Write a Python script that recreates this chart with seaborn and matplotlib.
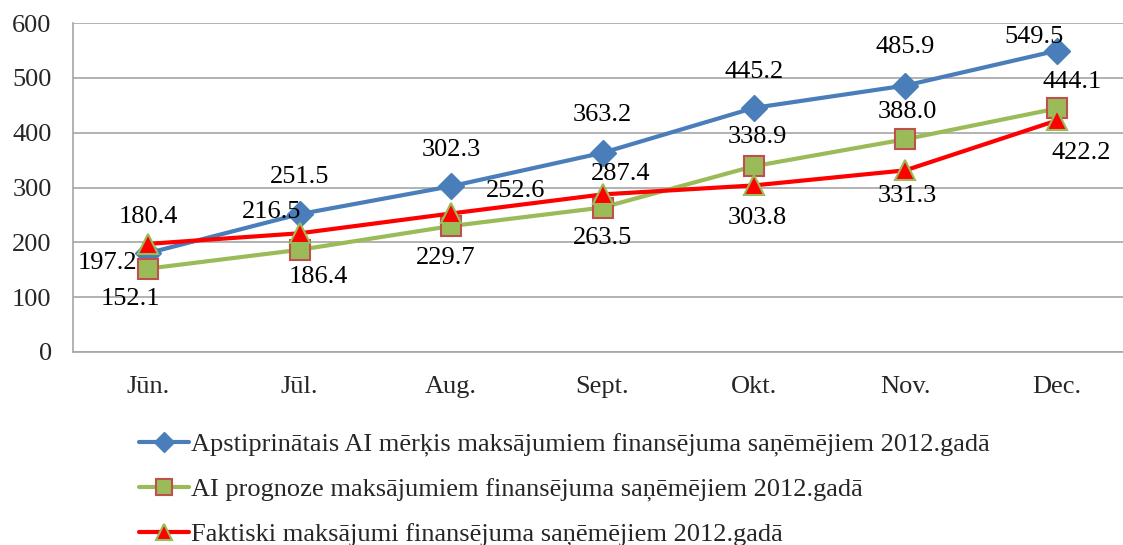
import pandas as pd
import matplotlib.pyplot as plt
import seaborn as sns

# chart data
months = ['Jūn.', 'Jūl.', 'Aug.', 'Sept.', 'Okt.', 'Nov.', 'Dec.']
target = [180.4, 251.5, 302.3, 363.2, 445.2, 485.9, 549.5]
forecast = [152.1, 186.4, 229.7, 263.5, 338.9, 388.0, 444.1]
actual = [197.2, 216.5, 252.6, 287.4, 303.8, 331.3, 422.2]

names = ['Apstiprinātais AI mērķis maksājumiem finansējuma saņēmējiem 2012.gadā',
         'AI prognoze maksājumiem finansējuma saņēmējiem 2012.gadā',
         'Faktiski maksājumi finansējuma saņēmējiem 2012.gadā']

# label offsets in pixels (dx, dy)
target_off = [(0, 36), (0, 37), (0, 36), (0, 38), (0, 36), (0, 39), (-23, 14)]
forecast_off = [(-18, -30), (19, -27), (-5, -32), (0, -30), (3, 29), (2, 27), (15, 26)]
actual_off = [(-41, -19), (-28, 21), (64, 22), (18, 20), (3, -33), (2, -26), (24, -33)]

sns.set_style('white')
plt.rcParams['font.family'] = ['Liberation Serif', 'DejaVu Serif']
fs = 19

fig = plt.figure(figsize=(11.23, 5.45), dpi=100)
ax = fig.add_axes([72.5 / 1123, 193 / 545, 1060 / 1123, 329 / 545])

styles = [
    dict(color='#4A7EBB', marker='D', markersize=13, markerfacecolor='#4A7EBB',
         markeredgecolor='#4A7EBB', markeredgewidth=1),
    dict(color='#9BBB59', marker='s', markersize=15, markerfacecolor='#9BBB59',
         markeredgecolor='#C0504D', markeredgewidth=1.5),
    dict(color='#FF0000', marker='^', markersize=15, markerfacecolor='#FF0000',
         markeredgecolor='#9BBB59', markeredgewidth=1.5),
]

series = [target, forecast, actual]
offsets = [target_off, forecast_off, actual_off]
for vals, name, st, offs in zip(series, names, styles, offsets):
    df = pd.DataFrame({'month': months, 'value': vals})
    sns.lineplot(data=df, x='month', y='value', ax=ax, label=name,
                 linewidth=3, sort=False, **st)
    for m, v, (dx, dy) in zip(months, vals, offs):
        ax.annotate(f'{v:.1f}', (months.index(m), v), xytext=(dx, dy),
                    textcoords='offset pixels', ha='center', va='center',
                    fontsize=fs, color='black')

ax.set_ylim(0, 600)
ax.set_xlim(-0.5, 6.5)
ax.set_yticks(range(0, 601, 100))
ax.set_xticks(range(len(months)))
ax.set_xticklabels(months)
ax.set_xticks([i - 0.5 for i in range(len(months) + 1)], minor=True)
ax.yaxis.grid(True, color='#A6A6A6', linewidth=1.2)
ax.set_axisbelow(True)
ax.tick_params(axis='x', which='major', length=0, pad=17, labelsize=fs)
ax.tick_params(axis='x', which='minor', length=6, color='#A6A6A6', width=1.2)
ax.tick_params(axis='y', length=6, color='#A6A6A6', width=1.2, pad=9, labelsize=fs)
ax.set_xlabel('')
ax.set_ylabel('')
for side in ['top', 'right']:
    ax.spines[side].set_visible(False)
for side in ['left', 'bottom']:
    ax.spines[side].set_color('#A6A6A6')
    ax.spines[side].set_linewidth(1.2)

handles, labels = ax.get_legend_handles_labels()
ax.get_legend().remove()
fig.legend(handles, labels, loc='upper left', bbox_to_anchor=(128 / 1123, 1 - 422 / 545),
           frameon=False, fontsize=fs, handlelength=1.9, handletextpad=0.1,
           labelspacing=0.8, borderaxespad=0, markerscale=0.75)

fig.savefig('out.png', dpi=100)
